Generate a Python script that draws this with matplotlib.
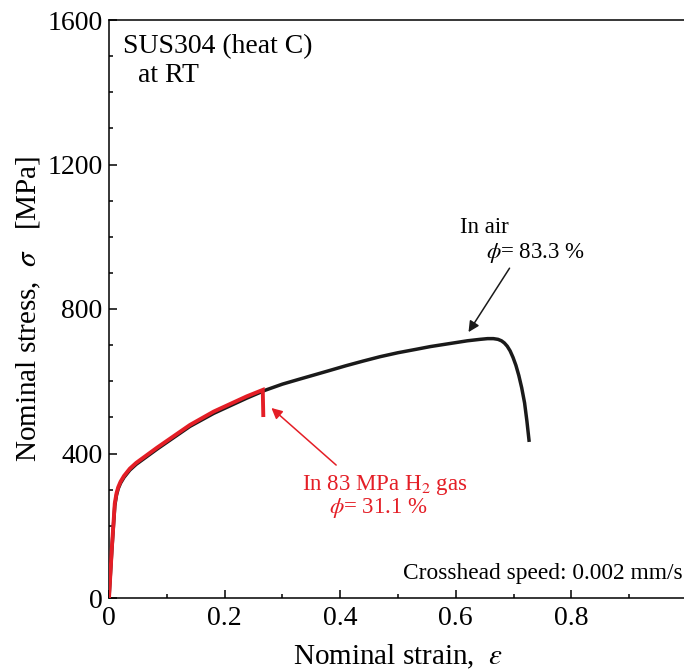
import matplotlib
matplotlib.use("Agg")
import matplotlib.pyplot as plt
from matplotlib.ticker import MultipleLocator

# Nominal stress-strain data, SUS304 (heat C) at room temperature
eps_air = [0, 0.005, 0.010, 0.013, 0.016, 0.020, 0.026, 0.036, 0.047, 0.059,
           0.083, 0.111, 0.140, 0.181, 0.238, 0.270, 0.300, 0.330, 0.354,
           0.380, 0.410, 0.440, 0.469, 0.500, 0.530, 0.556, 0.580, 0.600,
           0.620, 0.642, 0.655, 0.665, 0.673, 0.679, 0.684, 0.689, 0.694,
           0.699, 0.704, 0.709, 0.714, 0.719, 0.723, 0.727]
sig_air = [0, 135, 255, 285, 303, 318, 334, 354, 370, 384,
           412, 443, 475, 511, 553, 575, 592, 606, 617,
           629, 643, 656, 668, 679, 688, 696, 702, 707,
           712, 716, 718, 718, 716, 712, 706, 697, 684,
           666, 644, 616, 582, 540, 490, 432]

eps_h2 = [0, 0.005, 0.010, 0.013, 0.016, 0.020, 0.026, 0.036, 0.047, 0.059,
          0.083, 0.111, 0.140, 0.181, 0.238, 0.266, 0.267]
sig_h2 = [0, 140, 262, 290, 307, 322, 338, 358, 374, 388,
          416, 447, 479, 516, 558, 576, 501]

x_ticks = [0, 0.2, 0.4, 0.6, 0.8, 1.0]
x_labels = ["0", "0.2", "0.4", "0.6", "0.8", ""]
y_ticks = [0, 400, 800, 1200, 1600]

red = "#e41e26"

plt.rcParams["font.family"] = ["Liberation Serif", "DejaVu Serif"]
plt.rcParams["mathtext.fontset"] = "stix"

fig = plt.figure(figsize=(6.84, 6.71), dpi=100)
ax = fig.add_axes([109 / 684, 73 / 671, 578 / 684, 578 / 671])

ax.plot(eps_air, sig_air, color="#1a1a1a", lw=2.5, solid_joinstyle="round",
        solid_capstyle="butt", zorder=2)
ax.plot(eps_h2, sig_h2, color=red, lw=2.8, solid_joinstyle="miter",
        solid_capstyle="butt", zorder=3)

ax.set_xlim(0, 1.0)
ax.set_ylim(0, 1600)
ax.set_xticks(x_ticks)
ax.set_xticklabels(x_labels)
ax.set_yticks(y_ticks)
ax.xaxis.set_minor_locator(MultipleLocator(0.1))
ax.yaxis.set_minor_locator(MultipleLocator(100))
ax.tick_params(which="both", direction="in", width=1.1, labelsize=20,
               top=False, right=False)
ax.tick_params(which="major", length=6, pad=6)
ax.tick_params(axis="y", which="major", pad=4.5)
ax.tick_params(which="minor", length=3.2)
ax.spines["right"].set_visible(False)
for s in ["left", "bottom", "top"]:
    ax.spines[s].set_linewidth(1.1)

ax.set_xlabel(r"Nominal strain,  $\varepsilon$", fontsize=21, labelpad=8)
ax.set_ylabel(r"Nominal stress,  $\sigma$   [MPa]", fontsize=21, labelpad=3)

ax.text(0.024, 1560, "SUS304 (heat C)", fontsize=20, va="top", ha="left")
ax.text(0.050, 1480, "at RT", fontsize=20, va="top", ha="left")
ax.text(0.992, 40, "Crosshead speed: 0.002 mm/s", fontsize=16.8,
        ha="right", va="bottom")

ax.annotate("", xy=(0.622, 736), xytext=(0.693, 913),
            arrowprops=dict(arrowstyle="-|>", color="#1a1a1a", lw=1.1,
                            mutation_scale=16, shrinkA=0, shrinkB=0))
ax.text(0.608, 1010, "In air", fontsize=16.5, ha="left", va="baseline")
ax.text(0.652, 940, r"$\phi$= 83.3 %", fontsize=16.5, ha="left",
        va="baseline")

ax.annotate("", xy=(0.281, 526), xytext=(0.393, 368),
            arrowprops=dict(arrowstyle="-|>", color=red, lw=1.1,
                            mutation_scale=16, shrinkA=0, shrinkB=0))
ax.text(0.478, 300, r"In 83 MPa H$_2$ gas", fontsize=16.5, color=red,
        ha="center", va="baseline")
ax.text(0.466, 236, r"$\phi$= 31.1 %", fontsize=16.5, color=red,
        ha="center", va="baseline")

fig.savefig("out.png", dpi=100)
